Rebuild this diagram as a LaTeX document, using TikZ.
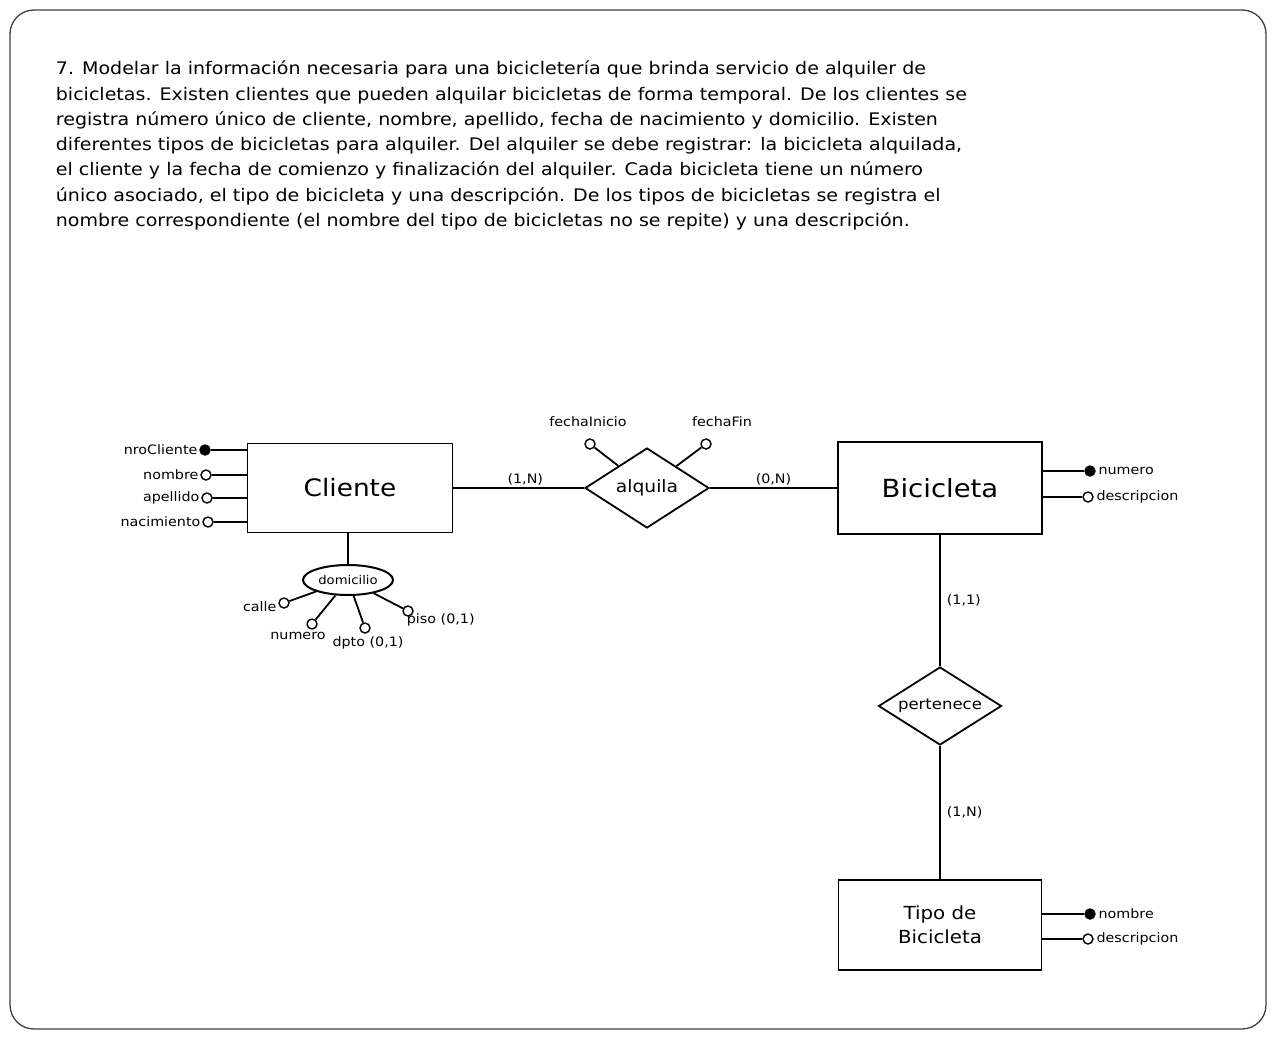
\documentclass[tikz,border=0pt]{standalone}
\usepackage{fontspec}
\setmainfont[FakeStretch=1.1]{DejaVu Sans}
\usetikzlibrary{positioning,shapes.geometric}

\begin{document}
\begin{tikzpicture}[
  x=1pt, y=-1pt,
  line width=1.8pt,
  font=\fontsize{13}{15}\selectfont,
  entidad/.style={draw, line width=1.8pt, fill=white, align=center, inner sep=2pt},
  relacion/.style={draw, diamond, line width=1.8pt, fill=white, inner sep=0pt},
  compuesto/.style={draw, ellipse, line width=2pt, minimum width=90pt, minimum height=30pt, inner sep=0pt, font=\fontsize{12}{14}\selectfont},
  atr/.style={draw, circle, line width=1.4pt, fill=white, minimum size=10pt, inner sep=0pt},
  clave/.style={atr, fill=black},
  txt/.style={inner sep=1pt, font=\fontsize{13}{15}\selectfont},
  card/.style={inner sep=2pt, font=\fontsize{13}{15}\selectfont}
]
\useasboundingbox (0,0) rectangle (1276,1039);
\draw[rounded corners=24pt, line width=1.3pt, draw=black!75] (10,10) rectangle (1266,1029);
% enunciado
\node[anchor=north west, align=left, inner sep=0pt, font=\fontsize{17.3}{25.3}\selectfont] (enunciado) at (55,60) {%
7. Modelar la información necesaria para una bicicletería que brinda servicio de alquiler de\\
bicicletas. Existen clientes que pueden alquilar bicicletas de forma temporal. De los clientes se\\
registra número único de cliente, nombre, apellido, fecha de nacimiento y domicilio. Existen\\
diferentes tipos de bicicletas para alquiler. Del alquiler se debe registrar: la bicicleta alquilada,\\
el cliente y la fecha de comienzo y finalización del alquiler. Cada bicicleta tiene un número\\
único asociado, el tipo de bicicleta y una descripción. De los tipos de bicicletas se registra el\\
nombre correspondiente (el nombre del tipo de bicicletas no se repite) y una descripción.};
% entidades y relaciones
\node[entidad, minimum width=205pt, minimum height=89pt, font=\fontsize{24}{28}\selectfont] (cliente) at (350,488) {Cliente};
\node[relacion, aspect=1.55, minimum width=124pt, minimum height=80pt, font=\fontsize{17}{20}\selectfont] (alquila) at (647,488) {alquila};
\node[entidad, minimum width=204pt, minimum height=92pt, font=\fontsize{25}{28}\selectfont] (bicicleta) at (940,488) {Bicicleta};
\node[relacion, aspect=1.58, minimum width=123pt, minimum height=78pt, font=\fontsize{15}{18}\selectfont] (pertenece) at (940,706) {pertenece};
\node[entidad, minimum width=203pt, minimum height=90pt, font=\fontsize{18}{24}\selectfont] (tipo) at (940,925) {Tipo de\\Bicicleta};
% atributos de Cliente
\node[clave] (nroClienteC) at (205,450) {};
\node[txt, left=0pt of nroClienteC] (nroClienteT) {nroCliente};
\node[atr] (nombreC) at (206,475) {};
\node[txt, left=0pt of nombreC] (nombreT) {nombre};
\node[atr] (apellidoC) at (207,498) {};
\node[txt, left=0pt of apellidoC] (apellidoT) {apellido};
\node[atr] (nacimientoC) at (208,522) {};
\node[txt, left=0pt of nacimientoC] (nacimientoT) {nacimiento};
\draw (nroClienteC) -- (nroClienteC -| cliente.west);
\draw (nombreC) -- (nombreC -| cliente.west);
\draw (apellidoC) -- (apellidoC -| cliente.west);
\draw (nacimientoC) -- (nacimientoC -| cliente.west);
% domicilio
\node[compuesto] (domicilio) at (348,580) {domicilio};
\draw (cliente.south -| domicilio.north) -- (domicilio.north);
\node[atr] (calleC) at (284,603) {};
\node[txt, left=0pt of calleC, yshift=-4pt] (calleT) {calle};
\node[atr] (numeroC) at (312,624) {};
\node[txt, below=1pt of numeroC, xshift=-14pt] (numeroT) {numero};
\node[atr] (dptoC) at (365,628) {};
\node[txt, below=1pt of dptoC, xshift=3pt] (dptoT) {dpto (0,1)};
\node[atr] (pisoC) at (408,611) {};
\node[txt, anchor=west] (pisoT) at (405,620) {piso (0,1)};
\draw (domicilio) -- (calleC);
\draw (domicilio) -- (numeroC);
\draw (domicilio) -- (dptoC);
\draw (domicilio) -- (pisoC);
% atributos de alquila
\node[atr] (fechaInicioC) at (590,444) {};
\node[txt] (fechaInicioT) at (588,422) {fechaInicio};
\node[atr] (fechaFinC) at (706,444) {};
\node[txt] (fechaFinT) at (722,422) {fechaFin};
\draw (fechaInicioC) -- (alquila);
\draw (fechaFinC) -- (alquila);
% atributos de Bicicleta
\node[clave] (numeroBC) at (1090,471) {};
\node[txt, right=1pt of numeroBC] (numeroBT) {numero};
\node[atr] (descBC) at (1088,497) {};
\node[txt, right=1pt of descBC] (descBT) {descripcion};
\draw (numeroBC -| bicicleta.east) -- (numeroBC);
\draw (descBC -| bicicleta.east) -- (descBC);
% atributos de Tipo de Bicicleta
\node[clave] (nombreTC) at (1090,914) {};
\node[txt, right=1pt of nombreTC] (nombreTT) {nombre};
\node[atr] (descTC) at (1088,939) {};
\node[txt, right=1pt of descTC] (descTT) {descripcion};
\draw (nombreTC -| tipo.east) -- (nombreTC);
\draw (descTC -| tipo.east) -- (descTC);
% relaciones
\draw (cliente) -- node[card, above, pos=0.55] (card1) {(1,N)} (alquila);
\draw (alquila) -- node[card, above] (card2) {(0,N)} (bicicleta);
\draw (bicicleta) -- node[card, right=4pt] (card3) {(1,1)} (pertenece);
\draw (pertenece) -- node[card, right=4pt] (card4) {(1,N)} (tipo);
\end{tikzpicture}
\end{document}
